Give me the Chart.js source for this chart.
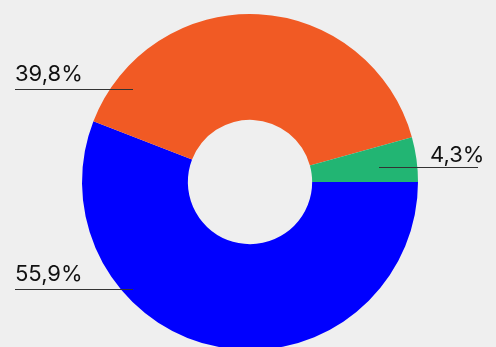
<!DOCTYPE html>
<html><head><meta charset="utf-8">
<script src="https://cdn.jsdelivr.net/npm/chart.js@4"></script>
<style>
html,body{margin:0;padding:0;background:#efefef;overflow:hidden;width:496px;height:347px}
#wrap{position:absolute;left:0;top:0;width:496px;height:350px}
</style></head><body>
<div id="wrap"><canvas id="c" width="496" height="350"></canvas></div>
<script>
const categories = ["A", "B", "C"];
const values = [55.9, 39.8, 4.3];
const labels = ["55,9%", "39,8%", "4,3%"];
const colors = ["#0000ff", "#f15a24", "#22b573"];

// label layout: [textX, baselineY, lineX1, lineX2, lineY]
const labelLayout = [
  [15, 281, 15, 133, 289.5],
  [15, 81, 15, 133, 89.5],
  [430, 162, 379, 478, 167.5]
];

const labelPlugin = {
  id: 'sideLabels',
  afterDatasetsDraw(chart) {
    const ctx = chart.ctx;
    ctx.save();
    ctx.font = '22px Inter, "Liberation Sans", sans-serif';
    ctx.fillStyle = '#111';
    ctx.textBaseline = 'alphabetic';
    ctx.textAlign = 'left';
    ctx.strokeStyle = '#333';
    ctx.lineWidth = 1;
    labels.forEach((t, i) => {
      const L = labelLayout[i];
      ctx.fillText(t, L[0], L[1]);
      ctx.beginPath();
      ctx.moveTo(L[2], L[4]);
      ctx.lineTo(L[3], L[4]);
      ctx.stroke();
    });
    ctx.restore();
  }
};

new Chart(document.getElementById('c'), {
  type: 'doughnut',
  data: {
    labels: categories,
    datasets: [{ data: values, backgroundColor: colors, borderWidth: 0 }]
  },
  options: {
    responsive: false,
    animation: false,
    rotation: 90,
    cutout: '37%',
    layout: { padding: { left: 82, right: 78, top: 14, bottom: 0 } },
    plugins: { legend: { display: false }, tooltip: { enabled: false } }
  },
  plugins: [labelPlugin]
});
</script>
</body></html>
